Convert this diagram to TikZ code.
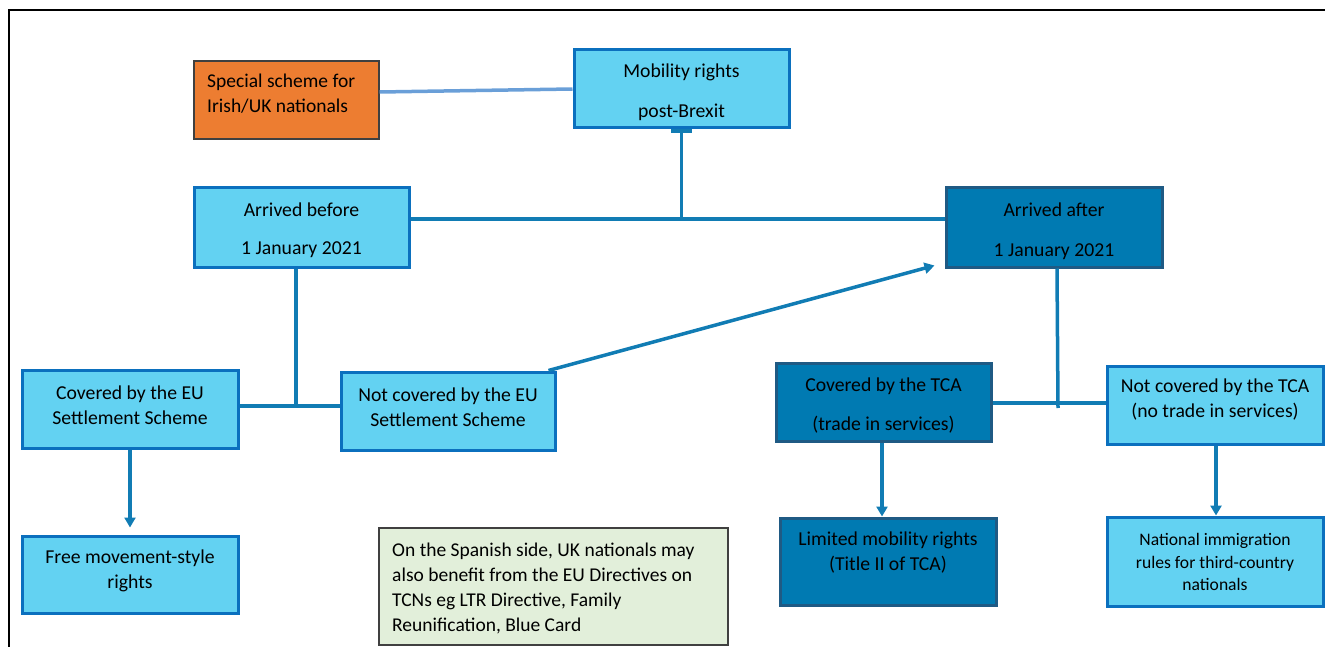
\documentclass[tikz,border=0pt]{standalone}
\usepackage{fontspec}
\setmainfont{Carlito}
\usetikzlibrary{arrows.meta}
\definecolor{lfill}{HTML}{63D2F2}
\definecolor{lborder}{HTML}{0B70BE}
\definecolor{dfill}{HTML}{007AB2}
\definecolor{dborder}{HTML}{1F5A84}
\definecolor{conn}{HTML}{117CB4}
\definecolor{spline}{HTML}{6A9FD8}
\definecolor{orangefill}{HTML}{ED7D31}
\definecolor{notefill}{HTML}{E2EFDA}
\definecolor{grayline}{HTML}{404040}
\tikzset{
  lbox/.style={draw=lborder, fill=lfill, line width=3pt, inner sep=0pt},
  dbox/.style={draw=dborder, fill=dfill, line width=3pt, inner sep=0pt},
  obox/.style={draw=grayline, fill=orangefill, line width=1.2pt, inner sep=0pt},
  nbox/.style={draw=grayline, fill=notefill, line width=1.2pt, inner sep=0pt},
  txt/.style={inner sep=0pt, align=center, font=\fontsize{19.7}{25}\selectfont},
  ltxt/.style={inner sep=0pt, align=left, anchor=west, font=\fontsize{19.5}{25}\selectfont},
  stxt/.style={inner sep=0pt, align=center, font=\fontsize{17.6}{22.5}\selectfont},
  conline/.style={draw=conn, line width=3.5pt},
  conarrow/.style={draw=conn, line width=3.5pt, -{Triangle[length=10pt,width=11pt]}},
}
\begin{document}
\begin{tikzpicture}[x=1pt,y=-1pt]
\useasboundingbox (0,0) rectangle (1325,647);
% frame
\draw[black, line width=1.5pt] (9,647) -- (9,10) -- (1325,10);

% boxes
\node[obox, minimum width=185pt, minimum height=78pt] (special) at (286.5,100) {};
\node[lbox, minimum width=215pt, minimum height=78pt] (mob) at (681.5,89) {};
\node[lbox, minimum width=215pt, minimum height=79pt] (before) at (301.5,227.5) {};
\node[dbox, minimum width=216pt, minimum height=79pt] (after) at (1054,227.5) {};
\node[lbox, minimum width=216pt, minimum height=78pt] (covEU) at (130,409) {};
\node[lbox, minimum width=214pt, minimum height=78pt] (notEU) at (448,411) {};
\node[lbox, minimum width=216pt, minimum height=77pt] (free) at (130,574.5) {};
\node[dbox, minimum width=215pt, minimum height=78pt] (covTCA) at (883.5,402) {};
\node[lbox, minimum width=216pt, minimum height=78pt] (notTCA) at (1215,405) {};
\node[dbox, minimum width=216pt, minimum height=87pt] (limited) at (888,561.5) {};
\node[lbox, minimum width=216pt, minimum height=89pt] (natl) at (1215,561.5) {};
\node[nbox, minimum width=349pt, minimum height=117pt] (note) at (553.5,586.5) {};

% texts
\node[ltxt] (tspecial) at (207,94) {Special scheme for\\Irish/UK nationals};
\node[txt] (tmob) at (681.5,92.5) {Mobility rights\\[15pt]post-Brexit};
\node[txt] (tbefore) at (301.5,230.5) {Arrived before\\[13pt]1 January 2021};
\node[txt] (tafter) at (1054,231.5) {Arrived after\\[15pt]1 January 2021};
\node[txt] (tcovEU) at (130,405.5) {Covered by the EU\\Settlement Scheme};
\node[txt] (tnotEU) at (448,407) {Not covered by the EU\\Settlement Scheme};
\node[txt] (tfree) at (130,571) {Free movement-style\\rights};
\node[txt] (tcovTCA) at (883.5,406) {Covered by the TCA\\[14pt](trade in services)};
\node[txt] (tnotTCA) at (1215,400) {Not covered by the TCA\\(no trade in services)};
\node[txt] (tlimited) at (888,552.5) {Limited mobility rights\\(Title II of TCA)};
\node[stxt] (tnatl) at (1215,562) {National immigration\\rules for third-country\\nationals};
\node[ltxt] (tnote) at (392,588) {On the Spanish side, UK nationals may\\also benefit from the EU Directives on\\TCNs eg LTR Directive, Family\\Reunification, Blue Card};

% junction coordinates
\coordinate (jtop) at (681.5,219);
\coordinate (jbefore) at (296,406);
\coordinate (jafter) at (1058,408);
\coordinate (jtca) at (1058,403);

% connectors
\draw[draw=spline, line width=3.5pt] ([yshift=8pt]special.east) -- (mob.west);
\draw[conline] ([xshift=-10.5pt,yshift=-1.5pt]mob.south) -- ([xshift=10.5pt,yshift=-1.5pt]mob.south);
\draw[conline] (mob.south) -- (jtop);
\draw[conline] (before.east |- jtop) -- (after.west |- jtop);
\draw[conline] ([xshift=-5.5pt]before.south) -- (jbefore);
\draw[conline] (covEU.east |- jbefore) -- (notEU.west |- jbefore);
\draw[conarrow] ([xshift=-8pt]notEU.north east) -- ([xshift=-10pt,yshift=3pt]after.south west);
\draw[conarrow] (covEU.south) -- ([yshift=7pt]free.north);
\draw[conline] ([xshift=3pt]after.south) -- (jafter);
\draw[conline] (covTCA.east |- jtca) -- (notTCA.west |- jtca);
\draw[conarrow] ([xshift=-1.5pt]covTCA.south) -- ([xshift=-6pt]limited.north);
\draw[conarrow] ([xshift=1pt]notTCA.south) -- ([xshift=1pt]natl.north);
\end{tikzpicture}
\end{document}
